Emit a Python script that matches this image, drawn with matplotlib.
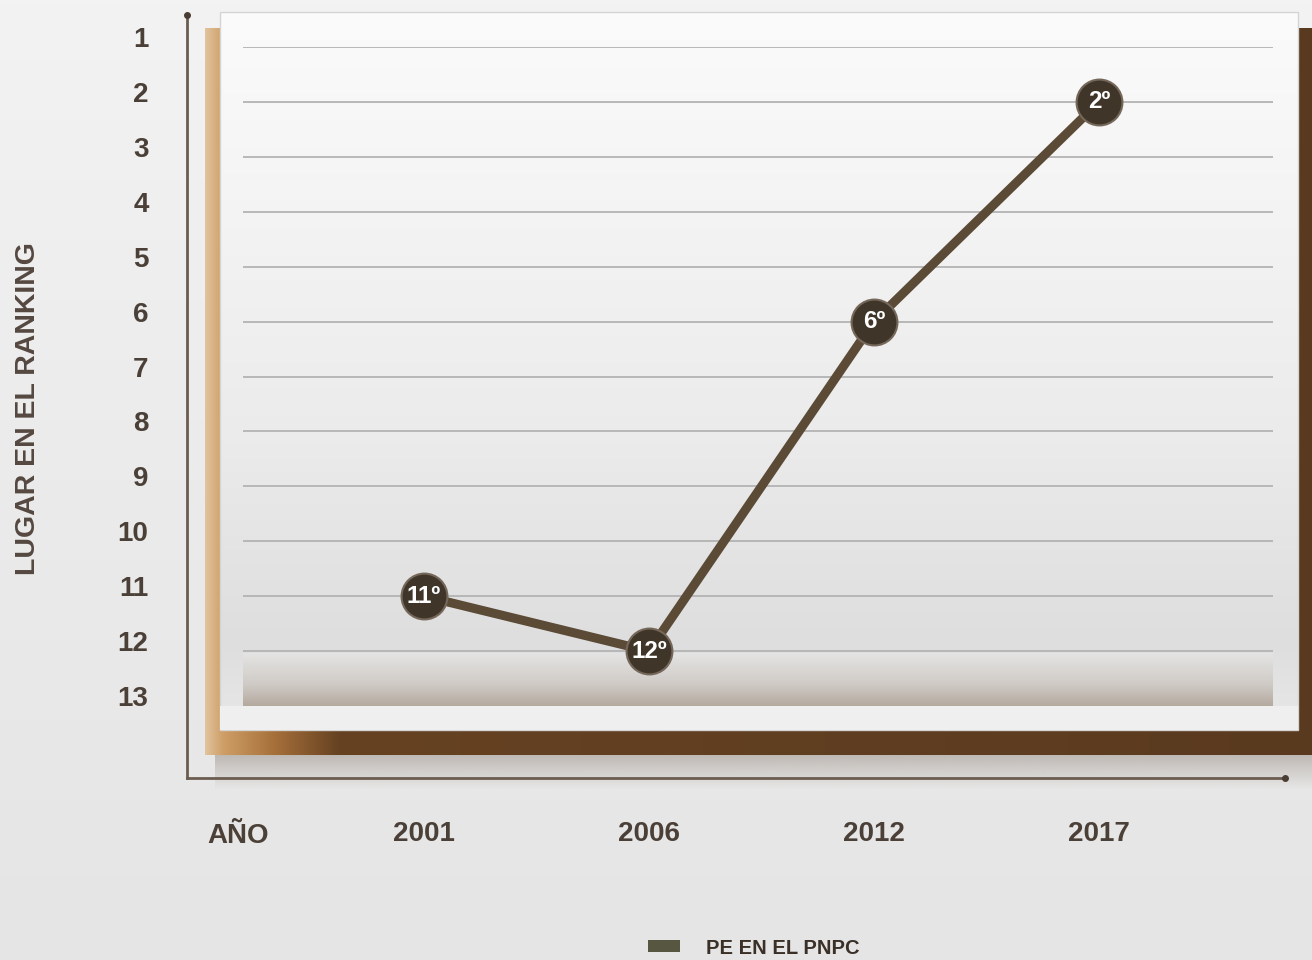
import numpy as np
import matplotlib
matplotlib.use("Agg")
import matplotlib.pyplot as plt
from matplotlib.patches import Rectangle, Patch
from matplotlib.colors import to_rgb
from matplotlib.transforms import ScaledTranslation

# ---------------- data ----------------
years = ["2001", "2006", "2012", "2017"]
ranking = [11, 12, 6, 2]
rank_ticks = list(range(1, 14))
series_label = "PE EN EL PNPC"
x_title = "AÑO"
y_title = "LUGAR EN EL RANKING"

FONT = ["Liberation Sans", "DejaVu Sans"]
W, H = 1312, 960
fig = plt.figure(figsize=(W / 100, H / 100), dpi=100)

# ---------------- background / decoration (pixel coords) ----------------
bg = fig.add_axes([0, 0, 1, 1], zorder=0)
bg.set_xlim(0, W)
bg.set_ylim(H, 0)
bg.axis("off")


def grad(stops, n=256):
    pos = np.array([s[0] for s in stops])
    cols = np.array([to_rgb(s[1]) for s in stops])
    t = np.linspace(0, 1, n)
    return np.stack([np.interp(t, pos, cols[:, k]) for k in range(3)], axis=-1)


# page background
g = grad([(0, "#f3f3f3"), (0.5, "#ebebeb"), (1, "#e5e5e5")])
bg.imshow(g[:, None, :], extent=[0, W, H, 0], aspect="auto", origin="upper", zorder=0)

# soft drop shadow under frame
sh = np.zeros((40, 1, 4))
sh[..., :3] = to_rgb("#6b5a4a")
sh[:, 0, 3] = np.linspace(0.35, 0.0, 40)
bg.imshow(sh, extent=[215, W, 790, 752], aspect="auto", origin="upper", zorder=1)

# brown frame (horizontal gradient)
fr = grad([(0, "#e0c29c"), (0.015, "#cf9f68"), (0.06, "#a8713b"),
           (0.12, "#664222"), (1, "#5a3a1f")], n=512)
bg.imshow(fr[None, :, :], extent=[205, W, 755, 28], aspect="auto", origin="upper", zorder=2)

# white panel with vertical gradient
pn = grad([(0, "#fbfbfb"), (0.6, "#ebebeb"), (0.88, "#dedede"), (1, "#e8e8e8")])
bg.imshow(pn[:, None, :], extent=[220, 1298, 730, 12], aspect="auto", origin="upper", zorder=3)
bg.add_patch(Rectangle((220, 12), 1078, 718, fill=False, ec="#d4d4d4", lw=1, zorder=4))

# bottom band inside plot
bd = grad([(0, "#e4e4e4"), (0.6, "#cfcac5"), (1, "#b4a99f")])
bg.imshow(bd[:, None, :], extent=[243, 1273, 706, 653], aspect="auto", origin="upper", zorder=4)
bg.add_patch(Rectangle((220, 706), 1078, 24, fc="#efefef", ec="none", zorder=4))

# axis lines with dots
ac = "#6b5c50"
bg.plot([187, 187], [15, 778], color=ac, lw=2, zorder=5)
bg.plot([187, 1285], [778, 778], color=ac, lw=2, zorder=5)
bg.plot([187, 1285], [15, 778], ls="none", marker="o", ms=4, color="#4a3e34", zorder=6)

# titles
tc = "#4b4037"
bg.text(28, 409, y_title, rotation=90, ha="center", va="center", fontsize=20.5,
        fontweight="bold", family=FONT, color="#554840", zorder=6)
bg.text(238, 836, x_title, ha="center", va="center", fontsize=20,
        fontweight="bold", family=FONT, color=tc, zorder=6)

# ---------------- data axes ----------------
left, right, top, bottom = 243, 1273, 47, 706
ax = fig.add_axes([left / W, 1 - bottom / H, (right - left) / W, (bottom - top) / H], zorder=2)
ax.patch.set_alpha(0)
x = np.arange(len(years))
ax.set_xlim(-0.804, 3.773)
ax.set_ylim(13, 1)
for s in ax.spines.values():
    s.set_visible(False)

for r in rank_ticks[:-1]:
    ax.axhline(r, color="#b3b3b3", lw=1.3, zorder=1)

ax.set_yticks(rank_ticks)
ax.set_yticklabels([str(r) for r in rank_ticks], fontsize=20, fontweight="bold",
                   family=FONT, color=tc)
ax.set_xticks(x)
ax.set_xticklabels(years, fontsize=20, fontweight="bold", family=FONT, color=tc)
ax.tick_params(axis="y", length=0, pad=68)
ax.tick_params(axis="x", length=0, pad=83)
off = ScaledTranslation(0, 0.10, fig.dpi_scale_trans)
for lab in ax.get_yticklabels():
    lab.set_transform(lab.get_transform() + off)

ax.plot(x, ranking, color="#5b4a36", lw=6.5, zorder=3, solid_capstyle="round")
ax.scatter(x, ranking, s=33 ** 2, facecolor="#3f3529", edgecolor="#75685a", lw=1.5, zorder=4)
for xi, r in zip(x, ranking):
    ax.text(xi, r, f"{r}º", ha="center", va="center", fontsize=17.5, fontweight="bold",
            family=FONT, color="white", zorder=5)

# legend
fig.legend(handles=[Patch(facecolor="#575640", edgecolor="none")], labels=[series_label],
           loc="center", bbox_to_anchor=(754 / W, 1 - 948 / H), frameon=False,
           handlelength=1.6, handleheight=0.55, handletextpad=1.3,
           prop={"family": FONT, "weight": "bold", "size": 14.5}, labelcolor="#3a3028")

fig.savefig("out.png", dpi=100)
